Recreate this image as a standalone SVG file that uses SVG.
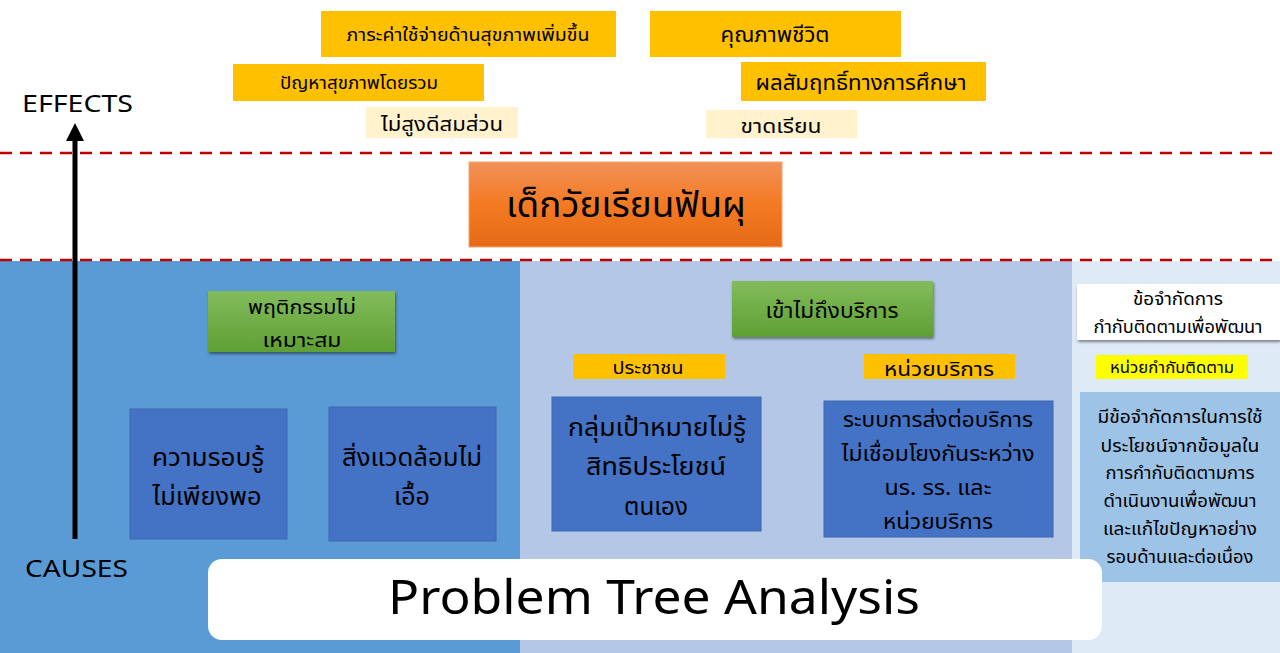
<svg xmlns="http://www.w3.org/2000/svg" width="1280" height="653" viewBox="0 0 1280 653">
<defs>
<linearGradient id="gOrange" x1="0" y1="0" x2="0" y2="1"><stop offset="0" stop-color="#F2915A"/><stop offset="0.5" stop-color="#F37A22"/><stop offset="1" stop-color="#E56A17"/></linearGradient>
<linearGradient id="gGreen" x1="0" y1="0" x2="0" y2="1"><stop offset="0" stop-color="#82BC5C"/><stop offset="1" stop-color="#5FA033"/></linearGradient>
<filter id="sh" x="-10%" y="-10%" width="130%" height="140%"><feDropShadow dx="1" dy="2" stdDeviation="1.5" flood-color="#000" flood-opacity="0.45"/></filter>
</defs>
<style>
text{font-family:"Noto Sans Thai","Tahoma","Noto Sans","DejaVu Sans",sans-serif;fill:#000;text-anchor:middle}
.lat{font-family:"Noto Sans","Open Sans","Liberation Sans",sans-serif}
.st{text-anchor:start}
.y{fill:#FFC000}
.ly{fill:#FFF2CC}
.bl{fill:#4472C4;stroke:#3F67B0;stroke-width:1}
.dash{stroke:#C00000;stroke-width:2.5;stroke-dasharray:12 8;fill:none}
</style>
<rect width="1280" height="653" fill="#fff"/>
<g id="panels">
<rect x="0" y="261" width="520" height="392" fill="#5B9BD5"/>
<rect x="520" y="261" width="552" height="392" fill="#B4C7E7"/>
<rect x="1072" y="261" width="208" height="392" fill="#DEEBF7"/>
</g>
<g id="connectors">
<line class="dash" x1="0" y1="153" x2="1280" y2="153"/>
<line class="dash" x1="0" y1="260" x2="1280" y2="260"/>
<line x1="75" y1="539" x2="75" y2="138" stroke="#000" stroke-width="5"/>
<polygon points="75,123 66,141 84,141" fill="#000"/>
</g>
<g id="labels">
<text class="lat st" x="22" y="112" font-size="24" textLength="111" lengthAdjust="spacingAndGlyphs">EFFECTS</text>
<text class="lat st" x="25" y="577" font-size="24" textLength="103" lengthAdjust="spacingAndGlyphs">CAUSES</text>
</g>
<g id="e1"><rect class="y" x="321" y="11" width="295" height="46"/><text x="468" y="41" font-size="18" textLength="243" lengthAdjust="spacingAndGlyphs">ภาระค่าใช้จ่ายด้านสุขภาพเพิ่มขึ้น</text></g>
<g id="e2"><rect class="y" x="233" y="64" width="251" height="37"/><text x="359" y="89" font-size="17" textLength="158" lengthAdjust="spacingAndGlyphs">ปัญหาสุขภาพโดยรวม</text></g>
<g id="e3"><rect class="ly" x="366" y="107" width="152" height="31"/><text x="442" y="131" font-size="20" textLength="122" lengthAdjust="spacingAndGlyphs">ไม่สูงดีสมส่วน</text></g>
<g id="e4"><rect class="y" x="650" y="11" width="251" height="46"/><text x="775" y="42" font-size="21" textLength="109" lengthAdjust="spacingAndGlyphs">คุณภาพชีวิต</text></g>
<g id="e5"><rect class="y" x="741" y="62" width="245" height="39"/><text x="861" y="90" font-size="21" textLength="211" lengthAdjust="spacingAndGlyphs">ผลสัมฤทธิ์ทางการศึกษา</text></g>
<g id="e6"><rect class="ly" x="706" y="110" width="151" height="28"/><text x="781" y="133" font-size="20" textLength="81" lengthAdjust="spacingAndGlyphs">ขาดเรียน</text></g>
<g id="core"><rect x="469" y="162" width="313" height="85" fill="url(#gOrange)" stroke="#F4A46C" stroke-width="1"/><text x="626" y="217" font-size="36" textLength="240" lengthAdjust="spacingAndGlyphs">เด็กวัยเรียนฟันผุ</text></g>
<g id="c1"><rect x="208" y="291" width="187" height="61" fill="url(#gGreen)" filter="url(#sh)"/><text x="302" y="314" font-size="19" textLength="108" lengthAdjust="spacingAndGlyphs">พฤติกรรมไม่</text><text x="302" y="347" font-size="19" textLength="79" lengthAdjust="spacingAndGlyphs">เหมาะสม</text></g>
<g id="c1a"><rect class="bl" x="130" y="409" width="157" height="130"/><text x="208" y="466" font-size="25" textLength="112" lengthAdjust="spacingAndGlyphs">ความรอบรู้</text><text x="207" y="505" font-size="25" textLength="109" lengthAdjust="spacingAndGlyphs">ไม่เพียงพอ</text></g>
<g id="c1b"><rect class="bl" x="329" y="407" width="167" height="134"/><text x="412" y="466" font-size="24" textLength="140" lengthAdjust="spacingAndGlyphs">สิ่งแวดล้อมไม่</text><text x="412" y="505" font-size="24" textLength="36" lengthAdjust="spacingAndGlyphs">เอื้อ</text></g>
<g id="c2"><rect x="732" y="281" width="201" height="56" fill="url(#gGreen)" filter="url(#sh)"/><text x="832" y="318" font-size="22" textLength="133" lengthAdjust="spacingAndGlyphs">เข้าไม่ถึงบริการ</text></g>
<g id="c2p"><rect class="y" x="573" y="354" width="152" height="25"/><text x="648" y="374" font-size="17" textLength="71" lengthAdjust="spacingAndGlyphs">ประชาชน</text></g>
<g id="c2s"><rect class="y" x="864" y="354" width="151" height="25"/><text x="939" y="376" font-size="20" textLength="110" lengthAdjust="spacingAndGlyphs">หน่วยบริการ</text></g>
<g id="c2a"><rect class="bl" x="552" y="397" width="209" height="134"/><text x="657" y="436" font-size="25" textLength="178" lengthAdjust="spacingAndGlyphs">กลุ่มเป้าหมายไม่รู้</text><text x="656" y="475" font-size="25" textLength="140" lengthAdjust="spacingAndGlyphs">สิทธิประโยชน์</text><text x="656" y="515" font-size="25" textLength="64" lengthAdjust="spacingAndGlyphs">ตนเอง</text></g>
<g id="c2b"><rect class="bl" x="824" y="401" width="229" height="136"/><text x="938" y="427" font-size="21" textLength="190" lengthAdjust="spacingAndGlyphs">ระบบการส่งต่อบริการ</text><text x="938" y="461" font-size="21" textLength="193" lengthAdjust="spacingAndGlyphs">ไม่เชื่อมโยงกันระหว่าง</text><text x="938" y="495" font-size="21" textLength="107" lengthAdjust="spacingAndGlyphs">นร. รร. และ</text><text x="938" y="529" font-size="21" textLength="110" lengthAdjust="spacingAndGlyphs">หน่วยบริการ</text></g>
<g id="c3"><rect x="1077" y="284" width="203" height="56" fill="#fff" filter="url(#sh)"/><text x="1178" y="305" font-size="17" textLength="90" lengthAdjust="spacingAndGlyphs">ข้อจำกัดการ</text><text x="1178" y="333" font-size="17" textLength="169" lengthAdjust="spacingAndGlyphs">กำกับติดตามเพื่อพัฒนา</text></g>
<g id="c3u"><rect x="1096" y="355" width="152" height="24" fill="#FFFF00"/><text x="1172" y="373" font-size="16" textLength="124" lengthAdjust="spacingAndGlyphs">หน่วยกำกับติดตาม</text></g>
<g id="c3a"><rect x="1080" y="392" width="200" height="190" fill="#9DC3E6"/>
<text x="1180" y="423" font-size="17" textLength="165" lengthAdjust="spacingAndGlyphs">มีข้อจำกัดการในการใช้</text>
<text x="1180" y="452" font-size="17" textLength="159" lengthAdjust="spacingAndGlyphs">ประโยชน์จากข้อมูลใน</text>
<text x="1180" y="479" font-size="17" textLength="149" lengthAdjust="spacingAndGlyphs">การกำกับติดตามการ</text>
<text x="1180" y="507" font-size="17" textLength="153" lengthAdjust="spacingAndGlyphs">ดำเนินงานเพื่อพัฒนา</text>
<text x="1180" y="535" font-size="17" textLength="154" lengthAdjust="spacingAndGlyphs">และแก้ไขปัญหาอย่าง</text>
<text x="1180" y="563" font-size="17" textLength="147" lengthAdjust="spacingAndGlyphs">รอบด้านและต่อเนื่อง</text></g>
<g id="title"><rect x="208" y="559" width="894" height="81" rx="14" fill="#fff"/><text class="lat" x="654" y="614" font-size="48" textLength="532" lengthAdjust="spacingAndGlyphs">Problem Tree Analysis</text></g>
</svg>
